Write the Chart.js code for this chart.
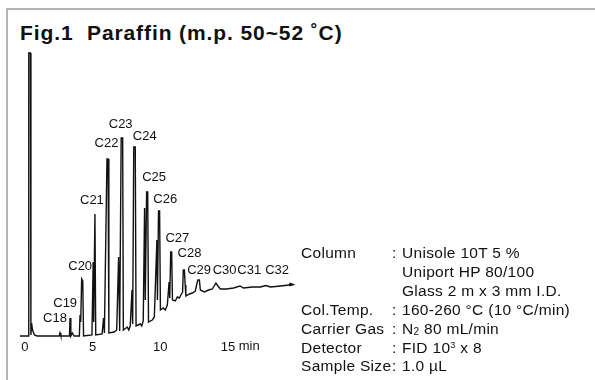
<!DOCTYPE html>
<html>
<head>
<meta charset="utf-8">
<script src="https://cdn.jsdelivr.net/npm/chart.js@4.4.1/dist/chart.umd.min.js"></script>
<style>
  html, body { margin: 0; padding: 0; background: #fff; }
  #wrap { position: relative; width: 595px; height: 380px; overflow: hidden;
          font-family: "Liberation Sans", Arial, sans-serif; color: #111; }
  #frame { position: absolute; left: 6px; top: 8px; width: 640px; height: 420px;
           border-top: 2px solid #b4b4b4; border-left: 2px solid #b4b4b4; }
  #title { position: absolute; left: 20px; top: 20px; font-size: 21px; font-weight: bold;
           white-space: pre; letter-spacing: 0.9px; line-height: 26px; }
  canvas { position: absolute; left: 0; top: 0; }
  .row { position: absolute; left: 0; width: 595px; height: 19px; line-height: 19px;
         font-size: 15.5px; white-space: pre; letter-spacing: 0.3px; }
  .row span { position: absolute; top: 0; }
  sub { font-size: 10px; vertical-align: -1px; line-height: 0; }
  sup { font-size: 9px; vertical-align: 5px; line-height: 0; }
</style>
</head>
<body>
<div id="wrap">
  <div id="frame"></div>
  <div id="title">Fig.1  Paraffin (m.p. 50~52 ˚C)</div>
  <canvas id="gc" width="595" height="380"></canvas>
  <div id="conditions"></div>
</div>
<script>
// Retention time (min) and detector signal of the paraffin chromatogram
const retentionTime = [
  -0.37, 0.24, 0.28, 0.40, 0.44, 0.49, 0.56, 0.70, 0.89,
  2.53, 2.59, 2.65, 3.29, 3.33, 3.39, 3.50, 3.63,
  4.02, 4.07, 4.12, 4.19, 4.27, 4.33, 4.95,
  5.04, 5.08, 5.17, 5.23, 5.70, 5.81, 5.87,
  6.06, 6.14, 6.20, 6.59, 6.78, 6.92, 7.00,
  7.11, 7.22, 7.27, 7.56, 7.67, 7.78, 7.91, 7.96,
  8.04, 8.15, 8.21, 8.52, 8.63, 8.74, 8.84, 8.89,
  8.99, 9.07, 9.13, 9.41, 9.56, 9.75, 9.79,
  9.87, 9.95, 10.01, 10.22, 10.37, 10.52, 10.65, 10.70,
  10.77, 10.84, 10.90, 11.11, 11.26, 11.41, 11.56, 11.65,
  11.70, 11.78, 11.84, 11.89, 12.15, 12.37, 12.59, 12.70,
  12.78, 12.89, 12.96, 13.26, 13.56, 13.85,
  14.11, 14.26, 14.44, 14.89, 15.41,
  15.89, 16.15, 16.81, 17.41,
  17.78, 18.15, 18.89, 19.83
];
const signal = [
  0, 0, 283, 283, 1, 13, 6, 1, 0,
  0, 3, 0, 0, 18, 0, 3, 0,
  0, 21, 14, 57, 55, 0, 1,
  74, 14, 122, 1, 2, 18, 3,
  177, 177, 3, 4, 6, 79, 5,
  198, 198, 6, 9, 6, 10, 46, 12,
  189, 189, 10, 12, 10, 15, 128, 36,
  144, 144, 14, 16, 19, 96, 36,
  125, 125, 26, 28, 26, 31, 54, 38,
  84, 84, 36, 35, 39, 38, 42, 44,
  66, 66, 51, 40, 42, 43, 45, 52,
  56, 56, 46, 44, 46, 47,
  53, 50, 47, 47, 48,
  50, 48, 49, 49,
  50.5, 49, 50, 51.5
];

// n-alkane peaks: name, retention time (min), apex signal
const peakNames   = ['C18', 'C19', 'C20', 'C21', 'C22', 'C23', 'C24', 'C25',
                     'C26', 'C27', 'C28', 'C29', 'C30', 'C31', 'C32'];
const peakTimes   = [3.33, 4.19, 5.04, 5.17, 6.06, 7.11, 8.04, 8.99,
                     9.87, 10.77, 11.70, 12.78, 14.11, 15.89, 17.78];
const peakHeights = [18, 57, 74, 122, 177, 198, 189, 144,
                     125, 84, 66, 56, 53, 50, 50.5];

// Time axis tick values (min)
const timeTicks = [0, 5, 10, 15];

// Analysis conditions listed beside the chromatogram
const conditionNames  = ['Column', '', '', 'Col.Temp.', 'Carrier Gas', 'Detector', 'Sample Size'];
const conditionValues = ['Unisole 10T 5 %', 'Uniport HP 80/100', 'Glass 2 m x 3 mm I.D.',
                         '160-260 °C (10 °C/min)', 'N<sub>2</sub> 80 mL/min',
                         'FID 10<sup>3</sup> x 8', '1.0 µL'];

// build the conditions block
const condBox = document.getElementById('conditions');
conditionNames.forEach((name, i) => {
  const row = document.createElement('div');
  row.className = 'row';
  row.style.top = (243 + i * 18.9) + 'px';
  row.innerHTML =
    '<span style="left:301px">' + name + '</span>' +
    (name ? '<span style="left:392px">:</span>' : '') +
    '<span style="left:402px">' + conditionValues[i] + '</span>';
  condBox.appendChild(row);
});

// pixel nudges of each peak label from its apex
const labelNudge = [
  [-15, 0], [-16.5, 24], [-13, 4], [-3, -14], [-0.5, -16], [-0.5, -14], [11, -11], [7.5, -15],
  [6.7, -12], [6.6, -14], [6.2, -17], [1.2, -10], [8.7, -13], [9.2, -16], [11.5, -15.5]
];
const labelFont = '13px "Liberation Sans", Arial, sans-serif';

const peakLabels = {
  id: 'peakLabels',
  afterDatasetsDraw(chart) {
    const { ctx, scales: { x, y } } = chart;
    ctx.save();
    ctx.font = labelFont;
    ctx.fillStyle = '#111';
    ctx.textAlign = 'center';
    ctx.textBaseline = 'middle';
    peakNames.forEach((name, i) => {
      const [dx, dy] = labelNudge[i];
      ctx.fillText(name, x.getPixelForValue(peakTimes[i]) + dx, y.getPixelForValue(peakHeights[i]) + dy);
    });
    // small arrowhead closing the trace
    const n = retentionTime.length - 1;
    const ex = x.getPixelForValue(retentionTime[n]);
    const ey = y.getPixelForValue(signal[n]);
    ctx.beginPath();
    ctx.moveTo(ex + 2, ey);
    ctx.lineTo(ex - 4, ey - 2);
    ctx.lineTo(ex - 4, ey + 2);
    ctx.closePath();
    ctx.fill();
    ctx.restore();
  },
  afterDraw(chart) {
    // unit written after the last time tick
    const { ctx, scales: { x } } = chart;
    const last = timeTicks[timeTicks.length - 1];
    ctx.save();
    ctx.font = labelFont;
    ctx.fillStyle = '#111';
    const w = ctx.measureText(String(last)).width;
    ctx.textAlign = 'left';
    ctx.textBaseline = 'top';
    ctx.fillText(' min', x.getPixelForValue(last) + w / 2, x.top + x.options.ticks.padding);
    ctx.restore();
  }
};

new Chart(document.getElementById('gc'), {
  type: 'line',
  data: {
    datasets: [{
      data: retentionTime.map((t, i) => ({ x: t, y: signal[i] })),
      borderColor: '#111',
      borderWidth: 1.4,
      pointRadius: 0,
      tension: 0,
      fill: false,
      clip: false
    }]
  },
  options: {
    responsive: false,
    devicePixelRatio: 1,
    animation: false,
    events: [],
    layout: { padding: { left: 18.2, right: 299.4, top: 36, bottom: 24.4 } },
    plugins: { legend: { display: false }, tooltip: { enabled: false }, title: { display: false } },
    scales: {
      x: {
        type: 'linear',
        min: -0.5,
        max: 20,
        afterBuildTicks(scale) { scale.ticks = timeTicks.map(v => ({ value: v })); },
        grid: { display: false, drawTicks: false },
        border: { display: false },
        ticks: {
          padding: 0,
          autoSkip: false,
          maxRotation: 0,
          color: '#111',
          font: { family: '"Liberation Sans", Arial, sans-serif', size: 13 }
        }
      },
      y: {
        display: false,
        min: -4,
        max: 300
      }
    }
  },
  plugins: [peakLabels]
});
</script>
</body>
</html>
